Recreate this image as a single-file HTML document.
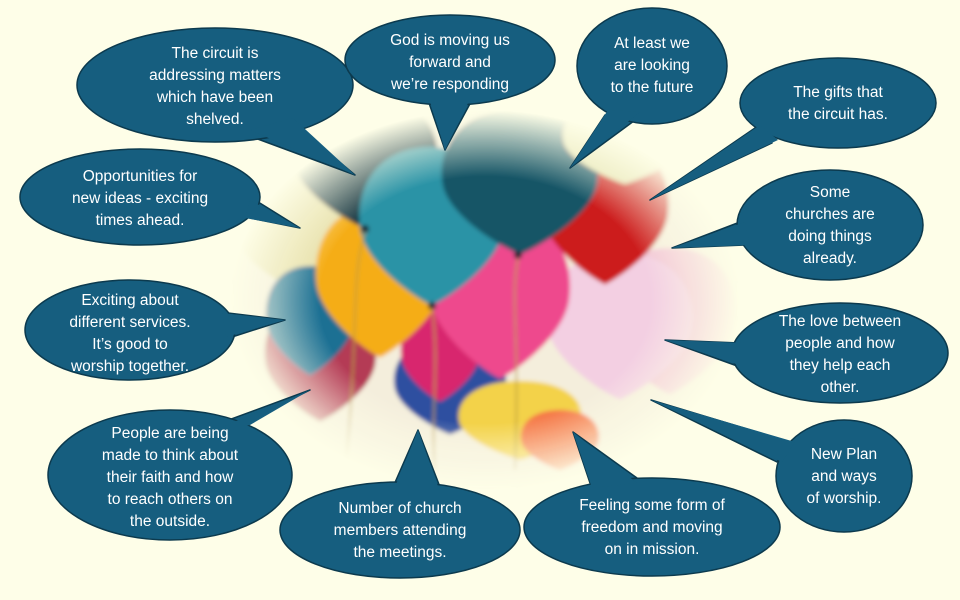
<!DOCTYPE html>
<html><head><meta charset="utf-8"><style>
html,body{margin:0;padding:0;background:#FEFEE8;}
svg{display:block}
text{font-family:"Liberation Sans",sans-serif;font-size:15.5px;fill:#fff;text-anchor:middle}
</style></head><body>
<svg width="960" height="600" viewBox="0 0 960 600" xmlns="http://www.w3.org/2000/svg">
<defs>
<radialGradient id="mg" cx="0.5" cy="0.5" r="0.5">
<stop offset="0.65" stop-color="#fff"/><stop offset="1" stop-color="#000"/>
</radialGradient>
<mask id="m"><ellipse cx="485" cy="300" rx="255" ry="190" fill="url(#mg)"/></mask>
<filter id="b" x="-20%" y="-20%" width="140%" height="140%"><feGaussianBlur stdDeviation="2"/></filter>
<g id="bl"><path d="M0,-60 C45,-60 60,-25 55,5 C50,30 15,55 0,62 C-15,55 -50,30 -55,5 C-60,-25 -45,-60 0,-60Z"/></g>
</defs>
<rect width="960" height="600" fill="#FEFEE8"/>
<g mask="url(#m)"><g filter="url(#b)">
<rect x="230" y="110" width="510" height="380" fill="#f4eedc"/>
<use href="#bl" transform="translate(300,230) scale(1.2,1)" fill="#e6dfa8"/>
<use href="#bl" transform="translate(670,320) scale(1.2,1.2)" fill="#f2c6d6"/>
<use href="#bl" transform="translate(320,360) scale(1,1)" fill="#b43a55"/>
<use href="#bl" transform="translate(310,320) scale(0.8,0.9)" fill="#1d6f93"/>
<use href="#bl" transform="translate(450,385) scale(1,0.8)" fill="#2f4fa0"/>
<use href="#bl" transform="translate(520,420) scale(1.1,0.65)" fill="#f3d24a"/>
<use href="#bl" transform="translate(560,440) scale(0.7,0.5)" fill="#f57a4a"/>
<use href="#bl" transform="translate(440,355) scale(0.7,0.75)" fill="#d8286e"/>
<use href="#bl" transform="translate(620,325) scale(1.3,1.2)" fill="#f3cfe2"/>
<use href="#bl" transform="translate(380,280) scale(1.15,1.25)" fill="#f5ad12"/>
<use href="#bl" transform="translate(500,295) scale(1.25,1.35)" fill="#ee4a8d"/>
<use href="#bl" transform="translate(605,210) scale(1.15,1.2)" fill="#cc1d1d"/>
<use href="#bl" transform="translate(365,160) scale(1.3,1.1)" fill="#1d3a45"/>
<use href="#bl" transform="translate(432,225) scale(1.3,1.3)" fill="#2a93a6"/>
<use href="#bl" transform="translate(520,180) scale(1.4,1.2)" fill="#175466"/>
<use href="#bl" transform="translate(625,140) scale(1.1,0.7)" fill="#e5e4b0"/>
<circle cx="365" cy="229" r="4" fill="#1a2630"/><circle cx="432" cy="306" r="4" fill="#1a2630"/><circle cx="518" cy="255" r="4" fill="#1a2630"/>
<path d="M518,258 C510,300 520,330 515,470 M432,308 C440,360 430,420 435,470 M365,232 C350,280 360,330 345,470" stroke="#b89a3a" stroke-width="1.5" fill="none"/>
</g></g>
<g fill="#165E7F" stroke="#0c3a4e" stroke-width="1.5" stroke-linejoin="round">
<polygon points="293,123 255,138 355,175"/><ellipse cx="215" cy="85" rx="138" ry="57"/><polygon points="293,118 250,130 355,175" stroke="none"/>
<polygon points="428,100 472,100 445,150"/><ellipse cx="450" cy="60" rx="105" ry="45"/><polygon points="428,95 472,95 445,150" stroke="none"/>
<polygon points="605,115 638,118 570,168"/><ellipse cx="652" cy="66" rx="75" ry="58"/><polygon points="608,110 640,112 570,168" stroke="none"/>
<polygon points="755,128 772,143 650,200"/><ellipse cx="838" cy="103" rx="98" ry="45"/><polygon points="760,125 778,140 650,200" stroke="none"/>
<polygon points="255,200 250,218 300,228"/><ellipse cx="140" cy="197" rx="120" ry="48"/><polygon points="250,200 245,218 300,228" stroke="none"/>
<polygon points="740,222 745,245 672,248"/><ellipse cx="830" cy="225" rx="93" ry="55"/><polygon points="745,222 750,245 672,248" stroke="none"/>
<polygon points="228,313 232,337 285,320"/><ellipse cx="130" cy="330" rx="105" ry="50"/><polygon points="222,313 226,337 285,320" stroke="none"/>
<polygon points="740,343 740,367 665,340"/><ellipse cx="840" cy="353" rx="108" ry="50"/><polygon points="745,343 745,367 665,340" stroke="none"/>
<polygon points="215,425 250,420 310,390"/><ellipse cx="170" cy="475" rx="122" ry="65"/><polygon points="215,430 250,425 310,390" stroke="none"/>
<polygon points="393,487 440,487 418,430"/><ellipse cx="400" cy="530" rx="120" ry="48"/><polygon points="393,492 440,492 418,430" stroke="none"/>
<polygon points="590,483 637,478 573,432"/><ellipse cx="652" cy="527" rx="128" ry="49"/><polygon points="592,488 637,483 573,432" stroke="none"/>
<polygon points="777,462 790,442 651,400"/><ellipse cx="844" cy="476" rx="68" ry="56"/><polygon points="782,462 795,442 651,400" stroke="none"/>
</g>
<text x="215" y="58">The circuit is</text><text x="215" y="80">addressing matters</text><text x="215" y="102">which have been</text><text x="215" y="124">shelved.</text>
<text x="450" y="45">God is moving us</text><text x="450" y="67">forward and</text><text x="450" y="89">we’re responding</text>
<text x="652" y="48">At least we</text><text x="652" y="70">are looking</text><text x="652" y="92">to the future</text>
<text x="838" y="97">The gifts that</text><text x="838" y="119">the circuit has.</text>
<text x="140" y="181">Opportunities for</text><text x="140" y="203">new ideas - exciting</text><text x="140" y="225">times ahead.</text>
<text x="830" y="197">Some</text><text x="830" y="219">churches are</text><text x="830" y="241">doing things</text><text x="830" y="263">already.</text>
<text x="130" y="305">Exciting about</text><text x="130" y="327">different services.</text><text x="130" y="349">It’s good to</text><text x="130" y="371">worship together.</text>
<text x="840" y="326">The love between</text><text x="840" y="348">people and how</text><text x="840" y="370">they help each</text><text x="840" y="392">other.</text>
<text x="170" y="438">People are being</text><text x="170" y="460">made to think about</text><text x="170" y="482">their faith and how</text><text x="170" y="504">to reach others on</text><text x="170" y="526">the outside.</text>
<text x="400" y="513">Number of church</text><text x="400" y="535">members attending</text><text x="400" y="557">the meetings.</text>
<text x="652" y="510">Feeling some form of</text><text x="652" y="532">freedom and moving</text><text x="652" y="554">on in mission.</text>
<text x="844" y="459">New Plan</text><text x="844" y="481">and ways</text><text x="844" y="503">of worship.</text>
</svg>
</body></html>
